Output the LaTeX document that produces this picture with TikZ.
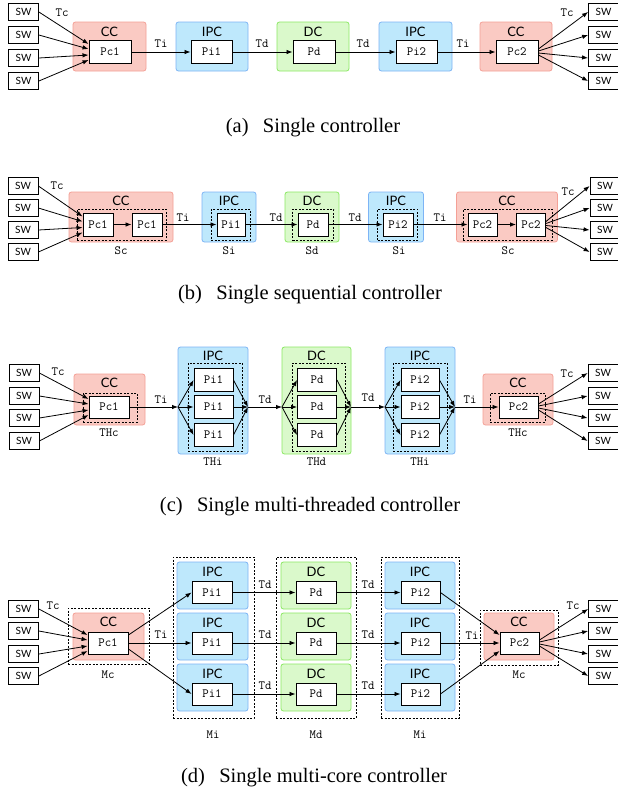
\documentclass[tikz,border=0pt]{standalone}
\usepackage{fontspec}
\setmainfont{Liberation Serif}
\newfontfamily\grpfont{Lato}
\newcommand\mymono{\ttfamily}
\usetikzlibrary{arrows.meta}
\definecolor{ccf}{RGB}{250,202,195}
\definecolor{ccb}{RGB}{244,160,150}
\definecolor{ipf}{RGB}{190,232,252}
\definecolor{ipb}{RGB}{125,180,245}
\definecolor{dcf}{RGB}{218,249,203}
\definecolor{dcb}{RGB}{140,232,100}
\tikzset{
  sw/.style={draw, line width=0.8pt, minimum width=30pt, minimum height=17pt, inner sep=0pt, font=\grpfont\fontsize{10}{10}\selectfont},
  proc/.style={draw, fill=white, line width=0.9pt, minimum height=23pt, inner sep=0pt, font=\mymono\fontsize{12.5}{12.5}\selectfont},
  ccg/.style={draw=ccb, fill=ccf, rounded corners=2.5pt, line width=0.8pt, inner sep=0pt},
  ipg/.style={draw=ipb, fill=ipf, rounded corners=2.5pt, line width=0.8pt, inner sep=0pt},
  dcg/.style={draw=dcb, fill=dcf, rounded corners=2.5pt, line width=0.8pt, inner sep=0pt},
  grplab/.style={font=\grpfont\fontsize{13}{13}\selectfont, inner sep=0pt},
  tl/.style={font=\mymono\fontsize{12.5}{12.5}\selectfont, inner sep=0pt},
  dbox/.style={draw, dash pattern=on 2pt off 1.5pt, line width=0.8pt, inner sep=0pt},
  arr/.style={-{Latex[length=6pt,width=4.5pt]}, line width=0.8pt},
  captext/.style={font=\fontsize{20.5}{21}\selectfont, inner sep=0pt}
}
\begin{document}
\begin{tikzpicture}[x=1pt,y=-1pt]
\useasboundingbox[fill=white] (0,0) rectangle (618,796);

% ================= (a) =================
\node[ccg, minimum width=73pt, minimum height=49pt] (aG1) at (109.5,46.5) {};
\node[ipg, minimum width=72pt, minimum height=49pt] (aG2) at (212,46.5) {};
\node[dcg, minimum width=72pt, minimum height=49pt] (aG3) at (313,46.5) {};
\node[ipg, minimum width=73pt, minimum height=49pt] (aG4) at (415.5,46.5) {};
\node[ccg, minimum width=72pt, minimum height=49pt] (aG5) at (516,46.5) {};
\node[grplab] (aL1) at (109.5,32) {CC};
\node[grplab] (aL2) at (212,32) {IPC};
\node[grplab] (aL3) at (313,32) {DC};
\node[grplab] (aL4) at (415.5,32) {IPC};
\node[grplab] (aL5) at (516,32) {CC};
\node[proc, minimum width=42pt] (aP1) at (110,52) {Pc1};
\node[proc, minimum width=41pt] (aP2) at (211.5,52) {Pi1};
\node[proc, minimum width=42pt] (aP3) at (314,52) {Pd};
\node[proc, minimum width=41pt] (aP4) at (416.5,52) {Pi2};
\node[proc, minimum width=42pt] (aP5) at (517,52) {Pc2};
\foreach \i/\y in {1/12,2/35,3/58,4/81}{
  \node[sw] (aSL\i) at (23.5,\y) {SW};
  \node[sw] (aSR\i) at (603.5,\y) {SW};
}
\draw[arr] (aSL1.east) -- ([yshift=8pt]aP1.west);
\draw[arr] (aSL2.east) -- ([yshift=3pt]aP1.west);
\draw[arr] (aSL3.east) -- ([yshift=-3pt]aP1.west);
\draw[arr] (aSL4.east) -- ([yshift=-8pt]aP1.west);
\draw[arr] ([yshift=3pt]aP5.east) -- (aSR1.west);
\draw[arr] ([yshift=1pt]aP5.east) -- (aSR2.west);
\draw[arr] ([yshift=-1pt]aP5.east) -- (aSR3.west);
\draw[arr] ([yshift=-3pt]aP5.east) -- (aSR4.west);
\draw[arr] (aP1.east) -- (aP2.west);
\draw[arr] (aP2.east) -- (aP3.west);
\draw[arr] (aP3.east) -- (aP4.west);
\draw[arr] (aP4.east) -- (aP5.west);
\node[tl] (aT1) at (62,13) {Tc};
\node[tl] (aT2) at (161,44) {Ti};
\node[tl] (aT3) at (262,44) {Td};
\node[tl] (aT4) at (363,44) {Td};
\node[tl] (aT5) at (463,44) {Ti};
\node[tl] (aT6) at (567,13) {Tc};
\node[captext] (aC) at (313,128) {(a)\hspace{0.45em} Single controller};

% ================= (b) =================
\node[ccg, minimum width=104pt, minimum height=50pt] (bG1) at (121,217) {};
\node[ipg, minimum width=54pt, minimum height=50pt] (bG2) at (229,217) {};
\node[dcg, minimum width=54pt, minimum height=50pt] (bG3) at (312,217) {};
\node[ipg, minimum width=55pt, minimum height=50pt] (bG4) at (396,217) {};
\node[ccg, minimum width=101pt, minimum height=50pt] (bG5) at (507,217) {};
\node[grplab] (bL1) at (121,201) {CC};
\node[grplab] (bL2) at (229,201) {IPC};
\node[grplab] (bL3) at (312,201) {DC};
\node[grplab] (bL4) at (396,201) {IPC};
\node[grplab] (bL5) at (507,201) {CC};
\node[dbox, minimum width=89pt, minimum height=31pt] (bD1) at (121.5,224.5) {};
\node[dbox, minimum width=39pt, minimum height=31pt] (bD2) at (230.5,224.5) {};
\node[dbox, minimum width=41pt, minimum height=31pt] (bD3) at (313,224.5) {};
\node[dbox, minimum width=40pt, minimum height=31pt] (bD4) at (397.5,224.5) {};
\node[dbox, minimum width=89pt, minimum height=31pt] (bD5) at (507.5,224.5) {};
\node[proc, minimum width=30pt] (bP1) at (98,224.5) {Pc1};
\node[proc, minimum width=30pt] (bP2) at (147,224.5) {Pc1};
\node[proc, minimum width=28pt] (bP3) at (231,224.5) {Pi1};
\node[proc, minimum width=30pt] (bP4) at (313,224.5) {Pd};
\node[proc, minimum width=30pt] (bP5) at (398,224.5) {Pi2};
\node[proc, minimum width=29pt] (bP6) at (482.5,224.5) {Pc2};
\node[proc, minimum width=29pt] (bP7) at (531,224.5) {Pc2};
\node[tl] (bS1) at (121,251) {Sc};
\node[tl] (bS2) at (229,251) {Si};
\node[tl] (bS3) at (312,251) {Sd};
\node[tl] (bS4) at (399,251) {Si};
\node[tl] (bS5) at (508,251) {Sc};
\foreach \i/\y in {1/186,2/208,3/230,4/252}{
  \node[sw] (bSL\i) at (23,\y) {SW};
  \node[sw] (bSR\i) at (605,\y) {SW};
}
\draw[arr] (bSL1.east) -- ([yshift=8pt]bP1.west);
\draw[arr] (bSL2.east) -- ([yshift=3pt]bP1.west);
\draw[arr] (bSL3.east) -- ([yshift=-3pt]bP1.west);
\draw[arr] (bSL4.east) -- ([yshift=-8pt]bP1.west);
\draw[arr] ([yshift=3pt]bP7.east) -- (bSR1.west);
\draw[arr] ([yshift=1pt]bP7.east) -- (bSR2.west);
\draw[arr] ([yshift=-1pt]bP7.east) -- (bSR3.west);
\draw[arr] ([yshift=-3pt]bP7.east) -- (bSR4.west);
\draw[arr] (bP1.east) -- (bP2.west);
\draw[arr] (bP2.east) -- (bP3.west);
\draw[arr] (bP3.east) -- (bP4.west);
\draw[arr] (bP4.east) -- (bP5.west);
\draw[arr] (bP5.east) -- (bP6.west);
\draw[arr] (bP6.east) -- (bP7.west);
\node[tl] (bT1) at (57,186) {Tc};
\node[tl] (bT2) at (183,218) {Ti};
\node[tl] (bT3) at (276,218) {Td};
\node[tl] (bT4) at (355,218) {Td};
\node[tl] (bT5) at (440,218) {Ti};
\node[tl] (bT6) at (568,192) {Tc};
\node[captext] (bC) at (310,295) {(b)\hspace{0.45em} Single sequential controller};

% ================= (c) =================
\node[ccg, minimum width=71pt, minimum height=51pt] (cG1) at (109.5,399.5) {};
\node[ipg, minimum width=70pt, minimum height=107pt] (cG2) at (213,400.5) {};
\node[dcg, minimum width=69pt, minimum height=107pt] (cG3) at (316.5,400.5) {};
\node[ipg, minimum width=70pt, minimum height=107pt] (cG4) at (420,400.5) {};
\node[ccg, minimum width=70pt, minimum height=51pt] (cG5) at (518,399.5) {};
\node[grplab] (cL1) at (109.5,383) {CC};
\node[grplab] (cL2) at (213,356) {IPC};
\node[grplab] (cL3) at (316.5,356) {DC};
\node[grplab] (cL4) at (420,356) {IPC};
\node[grplab] (cL5) at (518,383) {CC};
\node[dbox, minimum width=54pt, minimum height=29pt] (cD1) at (110,407.5) {};
\node[dbox, minimum width=54pt, minimum height=88pt] (cD2) at (215,407) {};
\node[dbox, minimum width=53pt, minimum height=88pt] (cD3) at (318.5,407) {};
\node[dbox, minimum width=54pt, minimum height=88pt] (cD4) at (420,407) {};
\node[dbox, minimum width=55pt, minimum height=29pt] (cD5) at (517.5,407.5) {};
\node[proc, minimum width=40pt, minimum height=22pt] (cP1) at (109,407) {Pc1};
\foreach \k/\y in {a/380,b/407,c/435}{
  \node[proc, minimum width=39pt] (cPi\k) at (213.5,\y) {Pi1};
  \node[proc, minimum width=39pt] (cPd\k) at (317,\y) {Pd};
  \node[proc, minimum width=38pt] (cPj\k) at (420,\y) {Pi2};
}
\node[proc, minimum width=39pt, minimum height=22pt] (cP5) at (518.5,407) {Pc2};
\node[tl] (cS1) at (109,433) {THc};
\node[tl] (cS2) at (213,462) {THi};
\node[tl] (cS3) at (316.5,462) {THd};
\node[tl] (cS4) at (420,462) {THi};
\node[tl] (cS5) at (518,433) {THc};
\foreach \i/\y in {1/373,2/396,3/418,4/441}{
  \node[sw] (cSL\i) at (24,\y) {SW};
  \node[sw] (cSR\i) at (603,\y) {SW};
}
\draw[arr] (cSL1.east) -- ([yshift=8pt]cP1.west);
\draw[arr] (cSL2.east) -- ([yshift=3pt]cP1.west);
\draw[arr] (cSL3.east) -- ([yshift=-3pt]cP1.west);
\draw[arr] (cSL4.east) -- ([yshift=-8pt]cP1.west);
\draw[arr] ([yshift=3pt]cP5.east) -- (cSR1.west);
\draw[arr] ([yshift=1pt]cP5.east) -- (cSR2.west);
\draw[arr] ([yshift=-1pt]cP5.east) -- (cSR3.west);
\draw[arr] ([yshift=-3pt]cP5.east) -- (cSR4.west);
\coordinate (cF1) at (178,407);
\coordinate (cJ1) at (248,407);
\coordinate (cF2) at (282,407);
\coordinate (cJ2) at (351,407);
\coordinate (cF3) at (385,407);
\coordinate (cJ3) at (455,407);
\draw[arr] (cP1.east) -- (cF1);
\draw[arr] (cJ1) -- (cF2);
\draw[arr] (cJ2) -- (cF3);
\draw[arr] (cJ3) -- (cP5.west);
\foreach \k in {a,b,c}{
  \draw[arr] (cF1) -- (cPi\k.west);
  \draw[arr] (cPi\k.east) -- (cJ1);
  \draw[arr] (cF2) -- (cPd\k.west);
  \draw[arr] (cPd\k.east) -- (cJ2);
  \draw[arr] (cF3) -- (cPj\k.west);
  \draw[arr] (cPj\k.east) -- (cJ3);
}
\node[tl] (cT1) at (58,372) {Tc};
\node[tl] (cT2) at (161,400) {Ti};
\node[tl] (cT3) at (265,400) {Td};
\node[tl] (cT4) at (368,398) {Td};
\node[tl] (cT5) at (470,400) {Ti};
\node[tl] (cT6) at (567,374) {Tc};
\node[captext] (cC) at (310,507) {(c)\hspace{0.45em} Single multi-threaded controller};

% ================= (d) =================
\node[dbox, minimum width=81pt, minimum height=56pt] (dM1) at (108.5,636) {};
\node[dbox, minimum width=81pt, minimum height=161pt] (dM2) at (213.5,637.5) {};
\node[dbox, minimum width=80pt, minimum height=161pt] (dM3) at (316,637.5) {};
\node[dbox, minimum width=78pt, minimum height=161pt] (dM4) at (420,637.5) {};
\node[dbox, minimum width=78pt, minimum height=55pt] (dM5) at (519,637.5) {};
\node[ccg, minimum width=71pt, minimum height=47pt] (dG1) at (108.5,636.5) {};
\node[ccg, minimum width=70pt, minimum height=47pt] (dG5) at (519,636.5) {};
\node[grplab] (dL1) at (108.5,622) {CC};
\node[grplab] (dL5) at (519,622) {CC};
\node[proc, minimum width=40pt, minimum height=22pt] (dP1) at (108,643) {Pc1};
\node[proc, minimum width=39pt, minimum height=22pt] (dP5) at (519.5,643) {Pc2};
\foreach \k/\g/\l/\p in {a/585.5/572/592.5,b/636.5/623/643,c/687.5/674/694}{
  \node[ipg, minimum width=71pt, minimum height=47pt] (dGi\k) at (212.5,\g) {};
  \node[dcg, minimum width=70pt, minimum height=47pt] (dGd\k) at (316,\g) {};
  \node[ipg, minimum width=70pt, minimum height=47pt] (dGj\k) at (420,\g) {};
  \node[grplab] (dLi\k) at (212.5,\l) {IPC};
  \node[grplab] (dLd\k) at (316,\l) {DC};
  \node[grplab] (dLj\k) at (420,\l) {IPC};
  \node[proc, minimum width=40pt, minimum height=22pt] (dPi\k) at (212,\p) {Pi1};
  \node[proc, minimum width=40pt, minimum height=22pt] (dPd\k) at (316,\p) {Pd};
  \node[proc, minimum width=39pt, minimum height=22pt] (dPj\k) at (420.5,\p) {Pi2};
  \draw[arr] (dPi\k.east) -- (dPd\k.west);
  \draw[arr] (dPd\k.east) -- (dPj\k.west);
  \node[tl] (dTa\k) at (265,\p-8) {Td};
  \node[tl] (dTb\k) at (368,\p-8) {Td};
}
\node[tl] (dS1) at (108,675) {Mc};
\node[tl] (dS2) at (213,735) {Mi};
\node[tl] (dS3) at (316,735) {Md};
\node[tl] (dS4) at (420,735) {Mi};
\node[tl] (dS5) at (519,675) {Mc};
\foreach \i/\y in {1/609,2/631,3/654,4/676}{
  \node[sw] (dSL\i) at (23.5,\y) {SW};
  \node[sw] (dSR\i) at (603.5,\y) {SW};
}
\draw[arr] (dSL1.east) -- ([yshift=8pt]dP1.west);
\draw[arr] (dSL2.east) -- ([yshift=3pt]dP1.west);
\draw[arr] (dSL3.east) -- ([yshift=-3pt]dP1.west);
\draw[arr] (dSL4.east) -- ([yshift=-8pt]dP1.west);
\draw[arr] ([yshift=3pt]dP5.east) -- (dSR1.west);
\draw[arr] ([yshift=1pt]dP5.east) -- (dSR2.west);
\draw[arr] ([yshift=-1pt]dP5.east) -- (dSR3.west);
\draw[arr] ([yshift=-3pt]dP5.east) -- (dSR4.west);
\draw[arr] ([yshift=8pt]dP1.east) -- (dPia.west);
\draw[arr] (dP1.east) -- (dPib.west);
\draw[arr] ([yshift=-6pt]dP1.east) -- (dPic.west);
\draw[arr] (dPja.east) -- ([yshift=8pt]dP5.west);
\draw[arr] (dPjb.east) -- (dP5.west);
\draw[arr] (dPjc.east) -- ([yshift=-8pt]dP5.west);
\node[tl] (dT1) at (53,606) {Tc};
\node[tl] (dT2) at (161,635) {Ti};
\node[tl] (dT5) at (472,636) {Ti};
\node[tl] (dT6) at (573,606) {Tc};
\node[captext] (dC) at (314,778) {(d)\hspace{0.45em} Single multi-core controller};
\end{tikzpicture}
\end{document}
